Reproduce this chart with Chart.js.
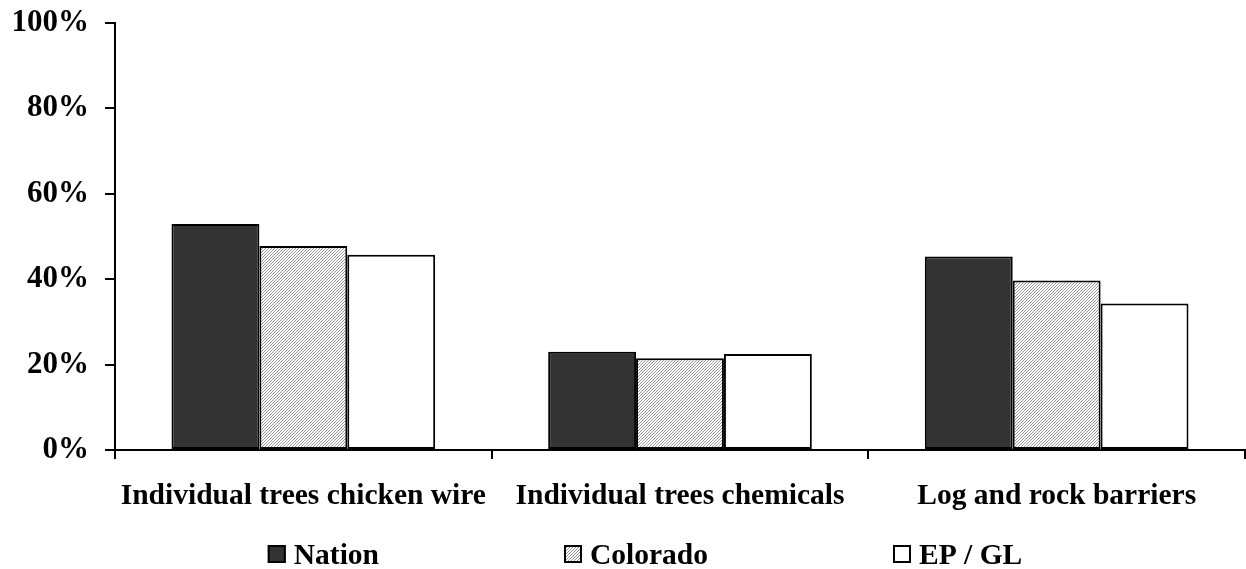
<!DOCTYPE html>
<html>
<head>
<meta charset="utf-8">
<script src="https://cdn.jsdelivr.net/npm/chart.js@4.4.1/dist/chart.umd.min.js"></script>
<style>
  html, body { margin: 0; padding: 0; background: #ffffff; }
  canvas { display: block; }
</style>
</head>
<body>
<canvas id="chart" width="1246" height="569"></canvas>
<script>
// Survey shares by protection method
const categories = ['Individual trees chicken wire', 'Individual trees chemicals', 'Log and rock barriers'];
const nation = [52.9, 23.0, 45.3];
const colorado = [47.8, 21.5, 39.7];
const epGl = [45.7, 22.5, 34.3];
const seriesNames = ['Nation', 'Colorado', 'EP / GL'];
const yTickValues = [0, 20, 40, 60, 80, 100];

const FONT_FAMILY = "'Liberation Serif', 'Times New Roman', serif";
const FONT_SIZE = 29.5;
const Y_FONT_SIZE = 31;

const canvas = document.getElementById('chart');
const mainCtx = canvas.getContext('2d');

// Fine diagonal hatch used for the Colorado bars
function makeHatch() {
  const tile = document.createElement('canvas');
  tile.width = 6; tile.height = 6;
  const g = tile.getContext('2d');
  g.fillStyle = '#ffffff';
  g.fillRect(0, 0, 6, 6);
  g.fillStyle = '#969696';
  for (let x = 0; x < 6; x++) {
    for (let y = 0; y < 6; y++) {
      if ((x + y) % 3 === 0) g.fillRect(x, y, 1, 1);
    }
  }
  return mainCtx.createPattern(tile, 'repeat');
}

// Legend row under the category labels: small boxes with bold names
const legendRow = {
  id: 'legendRow',
  afterDraw(chart) {
    const ctx = chart.ctx;
    const box = 18, gap = 8, spacing = 185;
    const centerX = 645, baseline = 564, boxTop = 545;
    ctx.save();
    ctx.font = 'bold ' + FONT_SIZE + 'px ' + FONT_FAMILY;
    ctx.textBaseline = 'alphabetic';
    ctx.textAlign = 'left';
    const items = chart.data.datasets.map(ds => ({ ds, w: ctx.measureText(ds.label).width }));
    const total = items.reduce((s, it) => s + box + gap + it.w, 0) + spacing * (items.length - 1);
    let x = centerX - total / 2;
    items.forEach(it => {
      ctx.fillStyle = it.ds.backgroundColor;
      ctx.fillRect(x, boxTop, box, box);
      ctx.lineWidth = 2;
      ctx.strokeStyle = '#000000';
      ctx.strokeRect(x + 1, boxTop + 1, box - 2, box - 2);
      ctx.fillStyle = '#000000';
      ctx.fillText(it.ds.label, x + box + gap, baseline);
      x += box + gap + it.w + spacing;
    });
    ctx.restore();
  }
};

const barStyle = {
  borderColor: '#000000',
  borderWidth: 2,
  borderSkipped: false,
  categoryPercentage: 0.7,
  barPercentage: 1.0
};

new Chart(canvas, {
  type: 'bar',
  data: {
    labels: categories,
    datasets: [
      Object.assign({ label: seriesNames[0], data: nation, backgroundColor: '#333333' }, barStyle),
      Object.assign({ label: seriesNames[1], data: colorado, backgroundColor: makeHatch() }, barStyle),
      Object.assign({ label: seriesNames[2], data: epGl, backgroundColor: '#ffffff' }, barStyle)
    ]
  },
  options: {
    responsive: false,
    devicePixelRatio: 1,
    animation: false,
    layout: { padding: { top: 23, right: 1, bottom: 0, left: 0 } },
    plugins: {
      legend: { display: false },
      tooltip: { enabled: false }
    },
    scales: {
      x: {
        offset: true,
        grid: {
          offset: true,
          drawOnChartArea: false,
          drawTicks: true,
          tickLength: 9,
          color: '#000000',
          lineWidth: 2
        },
        border: { color: '#000000', width: 2 },
        ticks: {
          color: '#000000',
          padding: 20,
          maxRotation: 0,
          autoSkip: false,
          font: { family: FONT_FAMILY, size: FONT_SIZE, weight: 'bold' }
        },
        afterFit(scale) {
          scale.height = 119;
          scale.paddingLeft = 0;
          scale.paddingRight = 0;
        }
      },
      y: {
        min: 0,
        max: 100,
        grid: {
          drawOnChartArea: false,
          drawTicks: true,
          tickLength: 10,
          color: '#000000',
          lineWidth: 2
        },
        border: { color: '#000000', width: 2 },
        afterBuildTicks(scale) {
          scale.ticks = yTickValues.map(v => ({ value: v }));
        },
        ticks: {
          color: '#000000',
          padding: 16,
          callback: v => v + '%',
          font: { family: FONT_FAMILY, size: Y_FONT_SIZE, weight: 'bold' }
        },
        afterFit(scale) {
          scale.width = 115;
          scale.paddingTop = 0;
          scale.paddingBottom = 0;
        }
      }
    }
  },
  plugins: [legendRow]
});
</script>
</body>
</html>
